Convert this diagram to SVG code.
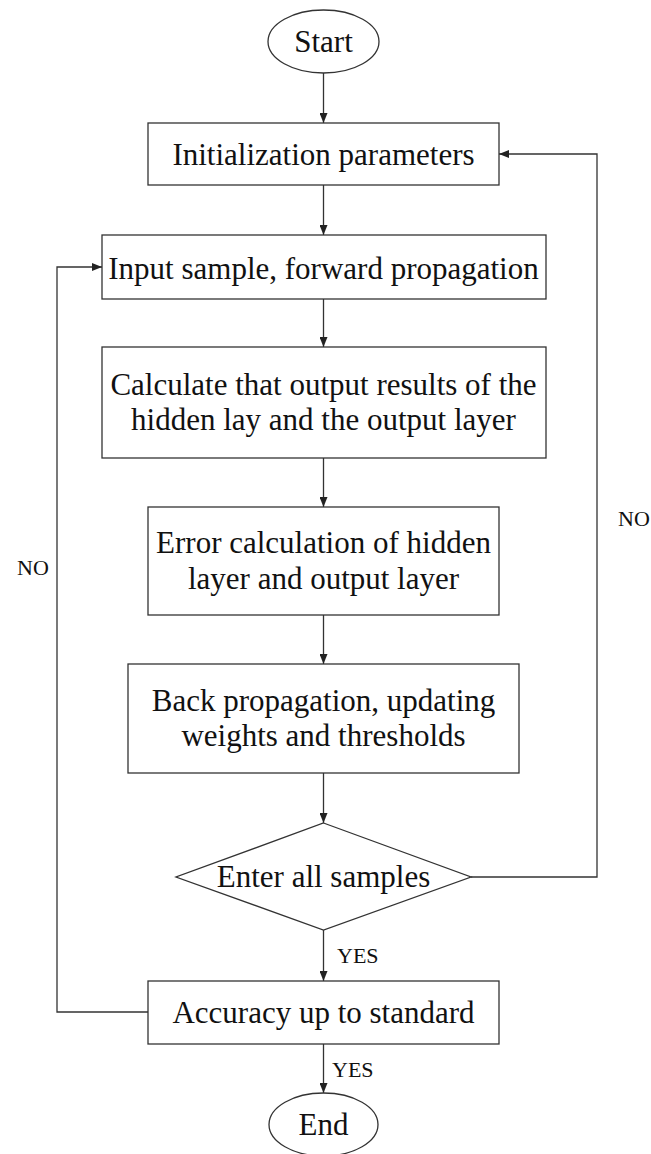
<svg xmlns="http://www.w3.org/2000/svg" width="651" height="1154" viewBox="0 0 651 1154">
<style>
.shape{fill:#fff;stroke:#333;stroke-width:1.3}
.t{font-family:"Liberation Serif","Times New Roman",serif;font-size:31px;fill:#111;text-anchor:middle}
.lbl{font-family:"Liberation Serif","Times New Roman",serif;font-size:22px;fill:#111}
.conn{fill:none;stroke:#333;stroke-width:1.3}
</style>
<defs>
<marker id="arr" viewBox="0 0 10 8" refX="10" refY="4" markerWidth="10" markerHeight="8" orient="auto" markerUnits="userSpaceOnUse">
<path d="M0,0 L10,4 L0,8 z" fill="#222"/>
</marker>
</defs>
<rect width="651" height="1154" fill="#fff"/>
<g id="connectors">
<line class="conn" x1="323.5" y1="73" x2="323.5" y2="123" marker-end="url(#arr)"/>
<line class="conn" x1="323.5" y1="185" x2="323.5" y2="235" marker-end="url(#arr)"/>
<line class="conn" x1="323.5" y1="299" x2="323.5" y2="347" marker-end="url(#arr)"/>
<line class="conn" x1="323.5" y1="458" x2="323.5" y2="507" marker-end="url(#arr)"/>
<line class="conn" x1="323.5" y1="615" x2="323.5" y2="664" marker-end="url(#arr)"/>
<line class="conn" x1="323.5" y1="773" x2="323.5" y2="823" marker-end="url(#arr)"/>
<line class="conn" x1="323.5" y1="930" x2="323.5" y2="981" marker-end="url(#arr)"/>
<line class="conn" x1="323.5" y1="1044" x2="323.5" y2="1093" marker-end="url(#arr)"/>
<polyline class="conn" points="471,877 597,877 597,154 499,154" marker-end="url(#arr)"/>
<polyline class="conn" points="148,1012 57,1012 57,267 102,267" marker-end="url(#arr)"/>
<text class="lbl" x="618" y="526">NO</text>
<text class="lbl" x="17" y="575">NO</text>
<text class="lbl" x="337" y="963">YES</text>
<text class="lbl" x="332" y="1077">YES</text>
</g>
<g id="start">
<ellipse class="shape" cx="323.5" cy="41.5" rx="55.5" ry="31.5"/>
<text class="t" x="323.5" y="52">Start</text>
</g>
<g id="init">
<rect class="shape" x="148" y="123" width="351" height="62"/>
<text class="t" x="323.5" y="165">Initialization parameters</text>
</g>
<g id="input">
<rect class="shape" x="102" y="235" width="444" height="64"/>
<text class="t" x="323.5" y="279">Input sample, forward propagation</text>
</g>
<g id="calc">
<rect class="shape" x="102" y="347" width="444" height="111"/>
<text class="t" x="323.5" y="395">Calculate that output results of the</text>
<text class="t" x="323.5" y="430">hidden lay and the output layer</text>
</g>
<g id="error">
<rect class="shape" x="148" y="507" width="351" height="108"/>
<text class="t" x="323.5" y="553">Error calculation of hidden</text>
<text class="t" x="323.5" y="589">layer and output layer</text>
</g>
<g id="back">
<rect class="shape" x="128" y="664" width="391" height="109"/>
<text class="t" x="323.5" y="711">Back propagation, updating</text>
<text class="t" x="323.5" y="746">weights and thresholds</text>
</g>
<g id="decision">
<polygon class="shape" points="323.5,823 471,877 323.5,930 176,877"/>
<text class="t" x="323.5" y="887">Enter all samples</text>
</g>
<g id="accuracy">
<rect class="shape" x="148" y="981" width="351" height="63"/>
<text class="t" x="323.5" y="1023">Accuracy up to standard</text>
</g>
<g id="end">
<ellipse class="shape" cx="323.5" cy="1124.5" rx="54.5" ry="31.5"/>
<text class="t" x="323.5" y="1135">End</text>
</g>
</svg>
